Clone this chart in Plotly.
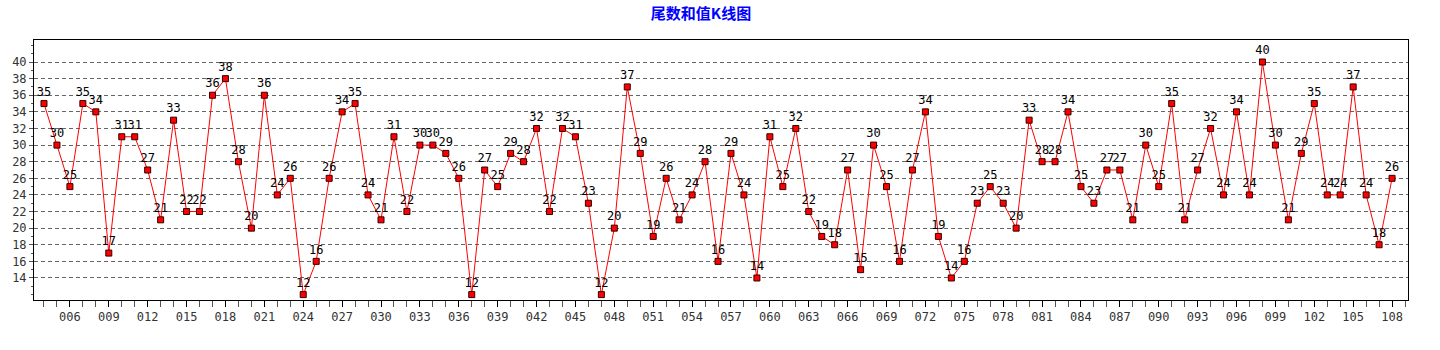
import plotly.graph_objects as go

# Draw periods (issue numbers) and the tail-digit sum for each period
periods = list(range(4, 109))
sums = [
    35, 30, 25, 35, 34, 17, 31, 31, 27, 21, 33, 22, 22, 36, 38, 28, 20, 36, 24, 26,
    12, 16, 26, 34, 35, 24, 21, 31, 22, 30, 30, 29, 26, 12, 27, 25, 29, 28, 32, 22,
    32, 31, 23, 12, 20, 37, 29, 19, 26, 21, 24, 28, 16, 29, 24, 14, 31, 25, 32, 22,
    19, 18, 27, 15, 30, 25, 16, 27, 34, 19, 14, 16, 23, 25, 23, 20, 33, 28, 28, 34,
    25, 23, 27, 27, 21, 30, 25, 35, 21, 27, 32, 24, 34, 24, 40, 30, 21, 29, 35, 24,
    24, 37, 24, 18, 26,
]

x_tick_vals = list(range(6, 109, 3))
x_tick_text = [f"{v:03d}" for v in x_tick_vals]
y_tick_vals = list(range(14, 41, 2))

fig = go.Figure()
fig.add_trace(go.Scatter(
    x=periods,
    y=sums,
    mode="lines+markers+text",
    line=dict(color="#ff0000", width=1),
    marker=dict(symbol="square", size=6, color="#ff0000",
                line=dict(color="#330000", width=1)),
    text=[str(v) for v in sums],
    textposition="top center",
    textfont=dict(family="DejaVu Sans Mono", size=12, color="#000000"),
    cliponaxis=False,
    hoverinfo="x+y",
))

fig.update_layout(
    width=1440,
    height=350,
    margin=dict(l=30, r=32, t=40, b=50),
    paper_bgcolor="#ffffff",
    plot_bgcolor="#ffffff",
    showlegend=False,
    title=dict(
        text="<b>尾数和值K线图</b>",
        x=701 / 1440,
        xanchor="center",
        y=1 - 14 / 350,
        yanchor="middle",
        font=dict(family="Noto Sans CJK SC", size=15, color="#0000ff"),
    ),
    xaxis=dict(
        range=[3.23, 109.23],
        tickvals=x_tick_vals,
        ticktext=x_tick_text,
        ticks="outside",
        ticklen=6,
        tickcolor="#000000",
        minor=dict(dtick=1, ticks="outside", ticklen=6, tickcolor="#555555"),
        showgrid=False,
        zeroline=False,
        showline=True,
        mirror=True,
        linecolor="#000000",
        linewidth=1,
        tickfont=dict(family="DejaVu Sans Mono", size=12, color="#333333"),
    ),
    yaxis=dict(
        range=[11.35, 42.65],
        tickvals=y_tick_vals,
        ticks="outside",
        ticklen=4,
        tickcolor="#555555",
        minor=dict(dtick=1, ticks="outside", ticklen=2, tickcolor="#555555", showgrid=False),
        showgrid=True,
        gridcolor="#666666",
        griddash="4px,3px",
        gridwidth=1,
        zeroline=False,
        showline=True,
        mirror=True,
        linecolor="#000000",
        linewidth=1,
        tickfont=dict(family="DejaVu Sans Mono", size=12, color="#333333"),
    ),
)

fig.write_html("out.html")
